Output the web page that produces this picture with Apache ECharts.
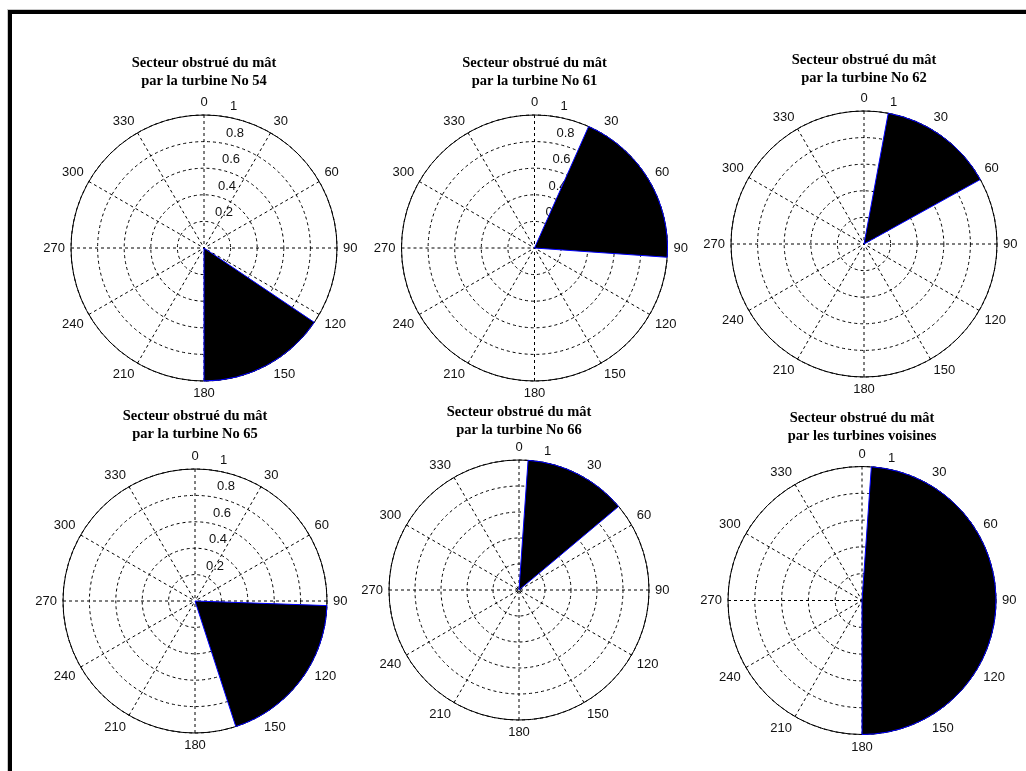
<!DOCTYPE html>
<html>
<head>
<meta charset="utf-8">
<script src="https://cdn.jsdelivr.net/npm/echarts@6/dist/echarts.min.js"></script>
<style>
  html, body { margin: 0; padding: 0; background: #fff; overflow: hidden; }
  #chart { position: absolute; left: 0; top: 0; width: 1026px; height: 771px; }
  #frame {
    position: absolute; left: 8px; top: 10px; width: 1100px; height: 800px;
    border-left: 4px solid #000; border-top: 4px solid #000;
    box-shadow: -1px -1px 0 #c8c8c8; pointer-events: none;
  }
</style>
</head>
<body>
<div id="chart"></div>
<div id="frame"></div>
<script>
// Sectors of the mast obstructed by neighbouring turbines.
// Bearings in degrees, clockwise from north; radius is normalised (0..1).
const plotTitles = [
  'Secteur obstrué du mât\npar la turbine No 54',
  'Secteur obstrué du mât\npar la turbine No 61',
  'Secteur obstrué du mât\npar la turbine No 62',
  'Secteur obstrué du mât\npar la turbine No 65',
  'Secteur obstrué du mât\npar la turbine No 66',
  'Secteur obstrué du mât\npar les turbines voisines'
];
const sectorStart  = [124, 24, 10.5, 92, 4, 4];
const sectorEnd    = [180, 94, 61, 162, 50, 180];
const sectorRadius = [1, 1, 1, 1, 1, 1];

const angleTicks  = [0, 30, 60, 90, 120, 150, 180, 210, 240, 270, 300, 330];
const radialTicks = [0.2, 0.4, 0.6, 0.8, 1];

// Layout of the 2 x 3 grid of polar plots (pixels)
const plotCenters = [[204, 248], [534.5, 248], [864, 244], [195, 601], [519, 590], [862, 600.5]];
const plotRadii   = [133, 133, 133, 132, 130, 134];
const titleTops   = [54, 54.5, 51, 407.5, 403.5, 409];

const labelFont = '"Liberation Sans", Arial, Helvetica, sans-serif';
const titleFont = '"Liberation Serif", "Times New Roman", Times, serif';
const dash = [3, 3];

// Radial tick labels sit slightly clockwise of north, shifting right as radius grows
function radialRich(R) {
  const rich = {};
  radialTicks.forEach(function (t) {
    rich['r' + Math.round(t * 10)] = {
      fontSize: 13, fontFamily: labelFont, color: '#111',
      padding: [0, 0, 17, Math.round(t * R * Math.sin(8 * Math.PI / 180))]
    };
  });
  return rich;
}

function sectorRenderer(params, api) {
  const r = api.value(0);
  const c = api.coord([0, 0]);
  const p0 = api.coord([r, api.value(1)]);
  const p1 = api.coord([r, api.value(2)]);
  const rad = Math.hypot(p0[0] - c[0], p0[1] - c[1]);
  const a0 = Math.atan2(p0[1] - c[1], p0[0] - c[0]);
  let a1 = Math.atan2(p1[1] - c[1], p1[0] - c[0]);
  if (a1 <= a0) a1 += Math.PI * 2;
  return {
    type: 'sector',
    shape: { cx: c[0], cy: c[1], r0: 0, r: rad, startAngle: a0, endAngle: a1, clockwise: true },
    style: { fill: '#000', stroke: '#0000ff', lineWidth: 1 }
  };
}

const option = {
  backgroundColor: 'transparent',
  animation: false,
  title: plotTitles.map(function (t, i) {
    return {
      text: t, left: plotCenters[i][0], top: titleTops[i], textAlign: 'center', padding: 0,
      textStyle: { fontFamily: titleFont, fontWeight: 'bold', fontSize: 14.5, lineHeight: 18, color: '#000' }
    };
  }),
  polar: plotCenters.map(function (c, i) {
    return { center: c, radius: plotRadii[i] };
  }),
  angleAxis: plotCenters.map(function (c, i) {
    return {
      polarIndex: i, type: 'value', min: 0, max: 360, interval: 30,
      startAngle: 90, clockwise: true,
      axisLine: { show: true, lineStyle: { color: '#000', width: 1 } },
      axisTick: { show: false },
      axisLabel: {
        margin: 6, fontSize: 13, fontFamily: labelFont, color: '#111',
        formatter: function (v) { return angleTicks.indexOf(v) >= 0 ? String(v) : ''; }
      },
      splitLine: { show: true, lineStyle: { color: '#000', width: 1, type: dash } }
    };
  }),
  radiusAxis: plotCenters.map(function (c, i) {
    return {
      polarIndex: i, type: 'value', min: 0, max: 1, interval: 0.2,
      axisLine: { show: false },
      axisTick: { show: false },
      splitLine: { show: true, lineStyle: { color: '#000', width: 1, type: dash } },
      axisLabel: {
        margin: -7, align: 'left', verticalAlign: 'middle',
        rich: radialRich(plotRadii[i]),
        formatter: function (v) {
          if (radialTicks.indexOf(v) < 0) return '';
          return '{r' + Math.round(v * 10) + '|' + v + '}';
        }
      }
    };
  }),
  series: plotTitles.map(function (t, i) {
    return {
      type: 'custom', coordinateSystem: 'polar', polarIndex: i, z: 5,
      renderItem: sectorRenderer,
      data: [[sectorRadius[i], sectorStart[i], sectorEnd[i]]]
    };
  })
};

const chart = echarts.init(document.getElementById('chart'), null, { renderer: 'canvas' });
chart.setOption(option);
</script>
</body>
</html>
